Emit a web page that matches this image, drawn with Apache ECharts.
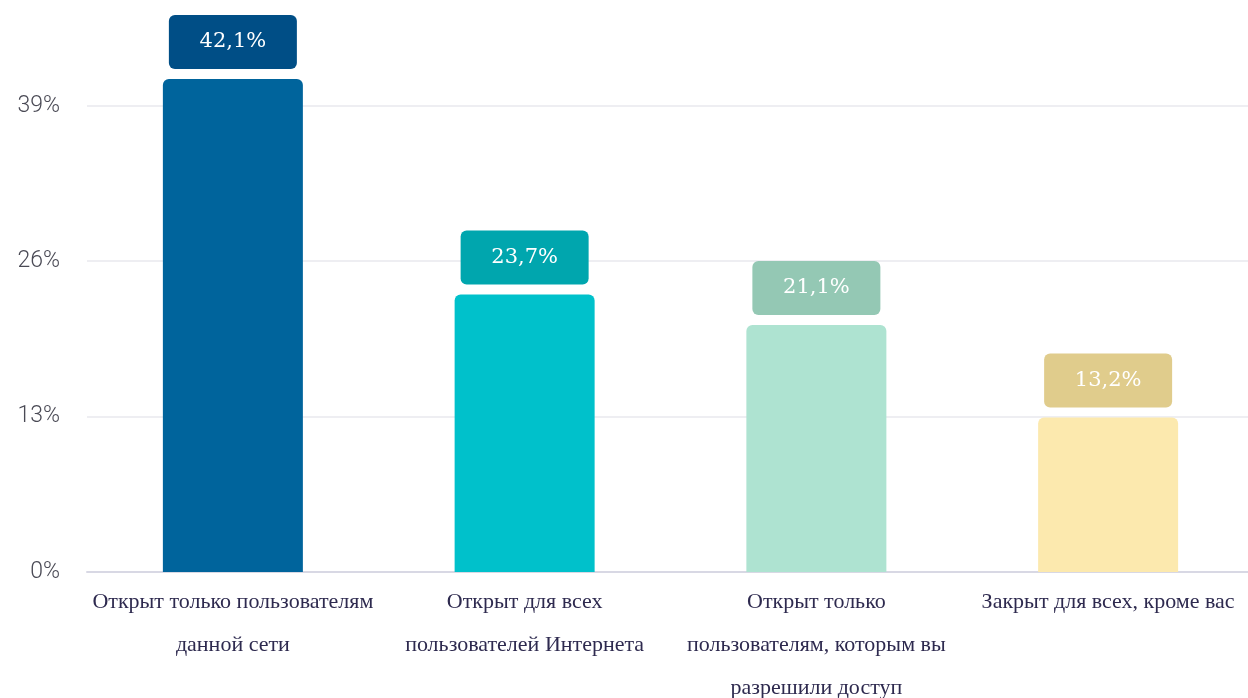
<!DOCTYPE html>
<html><head><meta charset="utf-8">
<script src="https://cdn.jsdelivr.net/npm/echarts@6/dist/echarts.min.js"></script>
<style>html,body{margin:0;padding:0;background:#fff;overflow:hidden}#c{width:1248px;height:698px}</style>
</head><body><div id="c"></div>
<script>
const categories = [
  "Открыт только пользователям\nданной сети",
  "Открыт для всех\nпользователей Интернета",
  "Открыт только\nпользователям, которым вы\nразрешили доступ",
  "Закрыт для всех, кроме вас"
];
const values = [42.1, 23.7, 21.1, 13.2];
const valueLabels = ["42,1%", "23,7%", "21,1%", "13,2%"];
const barColors = ["#00649c", "#00c1cb", "#aee3d1", "#fce9ae"];
const labelColors = ["#004e86", "#00a6ae", "#94c8b4", "#e0cc8c"];
const yTickLabels = ["0%", "13%", "26%", "39%"];
const yTickStep = 13.27;
const yMax = 45;

const chart = echarts.init(document.getElementById('c'), null, {renderer: 'canvas'});
chart.setOption({
  backgroundColor: '#fff',
  animation: false,
  grid: {left: 87, top: 45, width: 1167, bottom: 126, containLabel: false, outerBoundsMode: 'none'},
  xAxis: {
    type: 'category',
    data: categories,
    axisLine: {lineStyle: {color: '#d8d8e4', width: 2}},
    axisTick: {show: false},
    axisLabel: {
      interval: 0,
      margin: 9,
      fontFamily: 'Liberation Serif',
      fontSize: 22,
      lineHeight: 43,
      color: '#2e2a4f'
    }
  },
  yAxis: {
    type: 'value',
    min: 0,
    max: yMax,
    interval: yTickStep,
    axisLine: {show: false},
    axisTick: {show: false},
    splitLine: {lineStyle: {color: ['#e9e9ee', '#e9e9ee', '#e9e9ee', '#e9e9ee', 'rgba(0,0,0,0)'], width: 1.5}},
    axisLabel: {
      showMaxLabel: false,
      margin: 27,
      fontFamily: 'Roboto',
      fontWeight: 300,
      fontSize: 23,
      color: '#4a4a55',
      formatter: (v, i) => yTickLabels[i] || ''
    }
  },
  series: [{
    type: 'bar',
    barWidth: 140,
    data: values.map((v, i) => ({
      value: v,
      itemStyle: {color: barColors[i], borderRadius: [6, 6, 0, 0]},
      label: {backgroundColor: labelColors[i]}
    })),
    label: {
      show: true,
      position: 'top',
      distance: 10,
      formatter: p => valueLabels[p.dataIndex],
      color: '#fff',
      fontFamily: 'DejaVu Serif',
      fontSize: 21,
      width: 128,
      height: 54,
      lineHeight: 54,
      align: 'center',
      borderRadius: 6
    }
  }]
});
</script></body></html>
